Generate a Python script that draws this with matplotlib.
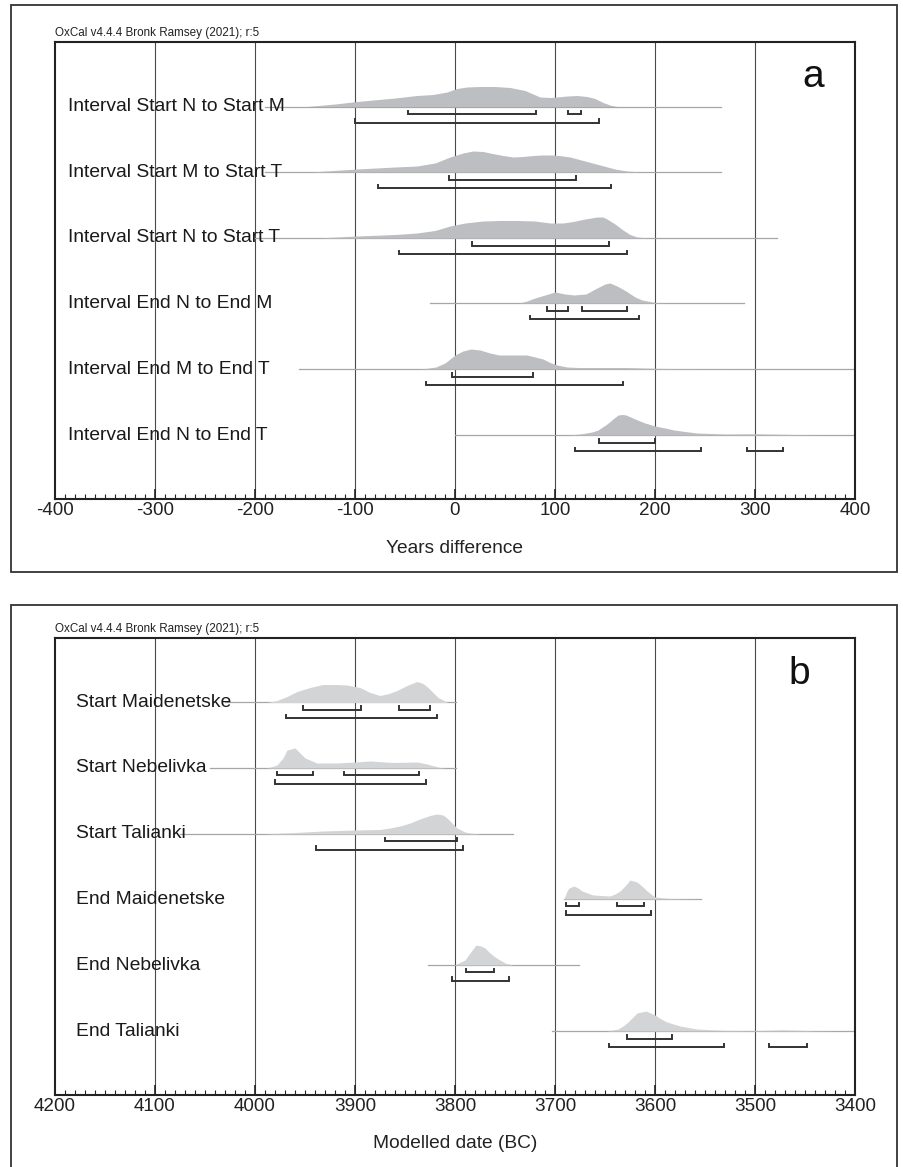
import matplotlib
matplotlib.use("Agg")
import matplotlib.pyplot as plt
from matplotlib.patches import Rectangle
import numpy as np

plt.rcParams['font.family'] = ['Liberation Sans', 'DejaVu Sans']
plt.rcParams['axes.unicode_minus'] = False

# ---------------- Panel a: interval distributions (years difference) ----------------
labels_a = ["Interval Start N to Start M", "Interval Start M to Start T",
            "Interval Start N to Start T", "Interval End N to End M",
            "Interval End M to End T", "Interval End N to End T"]

dens_a_x = [
    [-148, -120, -98, -60, -38, -22, -8, 2, 12, 25, 40, 55, 70, 85, 95, 102, 112, 122, 132, 140, 148, 155, 162],
    [-145, -98, -60, -38, -20, -5, 8, 18, 28, 35, 48, 58, 68, 78, 88, 98, 108, 115, 130, 145, 160, 172, 188],
    [-138, -98, -60, -38, -20, -5, 10, 28, 45, 62, 80, 95, 108, 118, 130, 142, 148, 152, 160, 168, 175, 182, 195],
    [64, 72, 80, 90, 100, 110, 119, 131, 142, 150, 155, 162, 171, 180, 187, 200, 215],
    [-39, -28, -19, -10, 0, 8, 16, 25, 35, 44, 58, 72, 80, 88, 95, 102, 112, 123, 171, 200, 230, 290],
    [112, 125, 131, 137, 143, 152, 158, 163, 168, 171, 180, 190, 200, 210, 219, 230, 242, 270, 302, 330, 368],
]
dens_a_h = [
    [0, 2.5, 5, 8.5, 11, 12, 14.5, 18, 19.5, 20, 20, 19, 16, 9.5, 9, 9.5, 10.5, 11, 10, 8, 4, 1.5, 0],
    [0, 3, 5, 6, 9, 15, 19, 21, 20.5, 19, 16.5, 15, 15.5, 16.5, 17, 17, 16, 15, 11, 7, 3, 1, 0],
    [0, 2, 3.5, 5, 7.5, 12, 15, 17, 17.5, 17.5, 17, 15, 15, 16.5, 19, 21, 21, 19, 14, 8, 3.5, 1, 0],
    [0, 2, 5, 8, 11, 9, 8, 9, 15, 19, 20, 17, 12, 6, 3, 0.5, 0],
    [0, 0.7, 2, 6, 14, 18, 20, 19, 16, 14, 14, 14, 12, 10, 6.5, 4, 2, 1.5, 1.5, 0.7, 0.3, 0],
    [0, 1, 2, 3, 5, 11, 16, 20, 20.5, 20, 16, 12, 9, 7, 5, 3.5, 2, 1, 1.2, 0.7, 0],
]
line_a = [(-190, 266), (-190, 266), (-200, 322), (-25, 289), (-156, 400), (0, 400)]
# 68.2% ranges (upper bracket row) and 95.4% ranges (lower bracket row)
r68_a = [[(-47, 81), (113, 126)], [(-6, 121)], [(17, 154)],
         [(92, 113), (127, 172)], [(-3, 78)], [(144, 200)]]
r95_a = [[(-100, 144)], [(-77, 156)], [(-56, 172)],
         [(75, 184)], [(-29, 168)], [(120, 246), (292, 328)]]

# ---------------- Panel b: modelled dates (BC) ----------------
labels_b = ["Start Maidenetske", "Start Nebelivka", "Start Talianki",
            "End Maidenetske", "End Nebelivka", "End Talianki"]
dens_b_x = [
    [3988, 3978, 3968, 3958, 3945, 3932, 3920, 3908, 3895, 3885, 3875, 3866, 3858, 3848, 3838, 3832, 3827, 3817, 3808],
    [3988, 3978, 3972, 3968, 3960, 3955, 3950, 3938, 3918, 3900, 3885, 3862, 3838, 3828, 3815, 3808],
    [3992, 3960, 3932, 3900, 3875, 3865, 3855, 3845, 3835, 3825, 3818, 3812, 3808, 3803, 3798, 3790, 3785, 3775],
    [3691, 3688, 3686, 3681, 3677, 3673, 3662, 3645, 3640, 3635, 3630, 3625, 3618, 3612, 3608, 3600, 3585, 3555],
    [3800, 3790, 3785, 3779, 3774, 3770, 3765, 3760, 3750, 3742],
    [3648, 3637, 3632, 3627, 3622, 3618, 3609, 3600, 3594, 3588, 3575, 3558, 3532, 3502, 3472, 3442, 3415],
]
dens_b_h = [
    [0, 2, 6, 11, 15, 18, 18, 17.5, 15, 10, 7, 9, 12, 17, 21, 19, 15, 5, 0.5],
    [0, 3, 10, 18, 20, 15, 10, 5, 5, 6, 7, 5.5, 6, 4, 0.5, 0],
    [0, 1.5, 3, 4, 4.5, 6, 8, 11, 15, 18.5, 20, 19, 16, 11, 6, 2, 1, 0],
    [0, 8, 11, 13, 11, 8, 4, 3, 5, 8, 13, 19, 17, 12, 8, 2, 0.5, 0],
    [0.3, 5, 12, 20, 19, 17, 12, 8, 2, 0],
    [0, 2, 5, 9, 14, 18, 20, 16, 12, 9, 5, 2, 0.7, 0.3, 1.3, 0.3, 0],
]
line_b = [(4030, 3799), (4045, 3799), (4075, 3742), (3691, 3554), (3827, 3676), (3703, 3400)]
r68_b = [[(3952, 3894), (3856, 3825)], [(3978, 3942), (3911, 3836)], [(3870, 3798)],
         [(3689, 3676), (3638, 3611)], [(3789, 3761)], [(3628, 3583)]]
r95_b = [[(3969, 3818)], [(3980, 3829)], [(3939, 3792)],
         [(3689, 3604)], [(3803, 3746)], [(3646, 3531), (3486, 3448)]]

W, H = 904, 1167
fig = plt.figure(figsize=(W / 100, H / 100), dpi=100)

row_y = [64.5, 130, 196, 261, 327, 393]   # baseline offsets (px) below axes top
AX_H = 457


def fy(py):
    return 1 - py / H


def panel(top_px, xlim, grid, ticks_major, labels, dens_x, dens_h, lines, r68, r95,
          fill, label_x, xlabel, letter, letter_xy):
    ax = fig.add_axes([55 / W, fy(top_px + AX_H), 800 / W, AX_H / H])
    ax.set_xlim(*xlim)
    ax.set_ylim(AX_H, 0)
    for g in grid:
        ax.axvline(g, color='#4a4a4a', lw=0.8, zorder=1)
    for i in range(6):
        yb = row_y[i]
        ax.plot(lines[i], [yb, yb], color='#a6a6a6', lw=0.9, zorder=2)
        xs = np.array(dens_x[i], float)
        hs = np.array(dens_h[i], float)
        ax.fill_between(xs, yb, yb - hs, color=fill, lw=0, zorder=3)
        for rr, off in ((r68[i], 7.5), (r95[i], 16)):
            for a, b in rr:
                y = yb + off
                ax.plot([a, a, b, b], [y - 3.5, y, y, y - 3.5], color='#333333',
                        lw=1.4, zorder=4, solid_joinstyle='miter')
        fig.text(label_x / W, fy(top_px + yb), labels[i], fontsize=13.9,
                 ha='left', va='center', color='#1a1a1a')
    ax.set_yticks([])
    ax.set_xticks(ticks_major)
    step = 10 if xlim[1] > xlim[0] else -10
    ax.set_xticks(np.arange(xlim[0], xlim[1] + step, step), minor=True)
    ax.tick_params(axis='x', which='major', direction='in', length=7, width=1.2,
                   labelsize=13.6, pad=2.5, colors='#222222')
    ax.tick_params(axis='x', which='minor', direction='in', length=3.5, width=0.8,
                   colors='#222222')
    for s in ax.spines.values():
        s.set_linewidth(1.5)
        s.set_color('#222222')
    fig.text(55 / W, fy(top_px - 3), "OxCal v4.4.4 Bronk Ramsey (2021); r:5",
             fontsize=8.4, ha='left', va='bottom', color='#222222')
    fig.text(455 / W, fy(top_px + 506), xlabel, fontsize=13.8, ha='center',
             va='center', color='#222222')
    fig.text(letter_xy[0] / W, fy(letter_xy[1]), letter, fontsize=28, ha='center',
             va='center', color='#111111')
    return ax


panel(42, (-400, 400), [-300, -200, -100, 0, 100, 200, 300],
      [-400, -300, -200, -100, 0, 100, 200, 300, 400],
      labels_a, dens_a_x, dens_a_h, line_a, r68_a, r95_a, '#bdbec2', 68,
      "Years difference", "a", (813, 77))

panel(638, (4200, 3400), [4100, 4000, 3900, 3800, 3700, 3600, 3500],
      [4200, 4100, 4000, 3900, 3800, 3700, 3600, 3500, 3400],
      labels_b, dens_b_x, dens_b_h, line_b, r68_b, r95_b, '#d3d4d6', 76,
      "Modelled date (BC)", "b", (799, 674))

# outer frames
for y0, y1 in ((5, 572), (605, 1180)):
    fig.patches.append(Rectangle((10.7 / W, fy(y1)), (897 - 10.7) / W, (y1 - y0) / H,
                                 transform=fig.transFigure, fill=False,
                                 edgecolor='#333333', lw=1.3))

fig.savefig("out.png", dpi=100)
